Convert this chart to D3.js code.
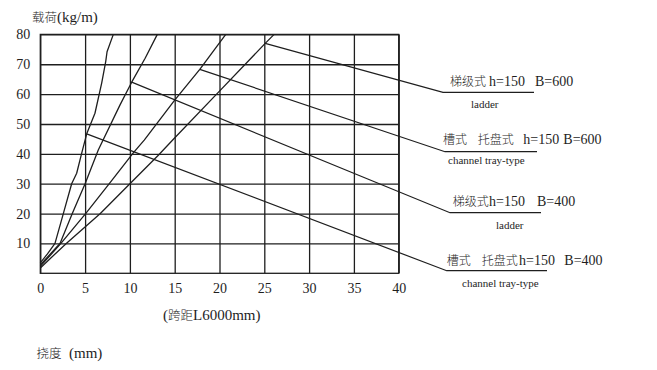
<!DOCTYPE html>
<html>
<head>
<meta charset="utf-8">
<script src="https://cdn.jsdelivr.net/npm/d3@7"></script>
<style>
  body { margin: 0; background: #fff; }
  svg { display: block; font-family: "Liberation Serif", "Noto Sans CJK SC", serif; }
</style>
</head>
<body>
<svg id="chart" width="657" height="370"></svg>
<script>
// tick values on both axes
const xTicks = [0, 5, 10, 15, 20, 25, 30, 35, 40];
const yTicks = [10, 20, 30, 40, 50, 60, 70, 80];

// load (kg/m) vs deflection (mm) curves as [deflection, load]
const ladder600 = [[0, 1.8], [2.9, 10], [6.7, 20], [10, 30], [13.2, 39.6], [14.8, 44.7], [20, 61], [25.1, 77], [26.1, 80]];
const tray600 = [[0, 2.3], [2.3, 10], [5.06, 20], [7.7, 30], [10.4, 40.4], [11.6, 44.6], [15, 58], [17.8, 68.3], [20.7, 80]];
const ladder400 = [[0, 2.8], [2.2, 10], [3.57, 20], [5, 30], [6.47, 41.3], [8.9, 56.4], [10.2, 64], [11.7, 72], [13.06, 80]];
const tray400 = [[0, 3.5], [0.8, 6.5], [1.64, 10], [2.57, 20], [3.5, 30], [4.06, 33.5], [4.6, 40], [5.18, 46.7], [6.1, 53.6], [6.85, 63.7], [7.3, 70.9], [7.45, 74.2], [8.15, 80]];
const curves = [ladder600, tray600, ladder400, tray400];

// the point on each curve where its leader line starts
const leaderAt = [[25.1, 77], [17.8, 68.3], [10.2, 64], [5.18, 46.7]];

// label text for each curve (chinese part, then the h / B part)
const labelText = [
  [["梯级式", true], ["h=150", false], ["B=600", false]],
  [["槽式", true], ["托盘式", true], ["h=150", false], ["B=600", false]],
  [["梯级式", true], ["h=150", false], ["B=400", false]],
  [["槽式", true], ["托盘式", true], ["h=150", false], ["B=400", false]],
];
const subText = ["ladder", "channel tray-type", "ladder", "channel tray-type"];

// where the labels sit (pixels): leader end, underline end, segment x, baselines
const labelLayout = [
  { ex: 443, ey: 92.3, ux: 534, segX: [450, 489, 535], base: 86, subX: 471, subBase: 108 },
  { ex: 445, ey: 151.7, ux: 537, segX: [443, 477.7, 523.3, 563.3], base: 144, subX: 448, subBase: 164 },
  { ex: 450, ey: 212.7, ux: 541, segX: [452.7, 489, 537], base: 206, subX: 496, subBase: 228.5 },
  { ex: 446.7, ey: 270.7, ux: 547, segX: [446.7, 481.7, 519, 564.3], base: 264.5, subX: 462, subBase: 287 },
];

const ink = "#1e1e1e";
const svg = d3.select("#chart");

const x = d3.scaleLinear().domain([0, 40]).range([40.3, 398.7]);
const y = d3.scaleLinear().domain([0, 80]).range([273.3, 34.4]);

const plotW = x(40) - x(0);
const plotH = y(0) - y(80);

// x axis with full-height grid lines
const gx = svg.append("g")
  .attr("transform", `translate(0,${y(0)})`)
  .call(d3.axisBottom(x).tickValues(xTicks).tickSize(-plotH).tickPadding(10));

// y axis with full-width grid lines
const gy = svg.append("g")
  .attr("transform", `translate(${x(0)},0)`)
  .call(d3.axisLeft(y).tickValues(yTicks).tickSize(-plotW).tickPadding(10));

[gx, gy].forEach(g => {
  g.select(".domain").remove();
  g.selectAll(".tick line").attr("stroke", ink).attr("stroke-width", 1.3);
  g.selectAll(".tick text")
    .attr("fill", ink)
    .attr("font-size", 14)
    .attr("font-family", "Liberation Serif, serif");
});

// plot frame
svg.append("rect")
  .attr("x", x(0))
  .attr("y", y(80))
  .attr("width", plotW)
  .attr("height", plotH)
  .attr("fill", "none")
  .attr("stroke", ink)
  .attr("stroke-width", 1.3);

// the four curves
const line = d3.line()
  .x(d => x(d[0]))
  .y(d => y(d[1]));

svg.selectAll("path.curve")
  .data(curves)
  .join("path")
  .attr("class", "curve")
  .attr("d", line)
  .attr("fill", "none")
  .attr("stroke", ink)
  .attr("stroke-width", 1.3)
  .attr("stroke-linejoin", "round");

// leader lines running out to the labels, then the underline
svg.selectAll("path.leader")
  .data(leaderAt)
  .join("path")
  .attr("class", "leader")
  .attr("d", (d, i) => {
    const L = labelLayout[i];
    return `M${x(d[0])},${y(d[1])}L${L.ex},${L.ey}L${L.ux},${L.ey}`;
  })
  .attr("fill", "none")
  .attr("stroke", ink)
  .attr("stroke-width", 1.2);

// the labels
labelText.forEach((segs, i) => {
  const L = labelLayout[i];
  const t = svg.append("text")
    .attr("y", L.base)
    .attr("fill", ink);
  segs.forEach(([s, cjk], j) => {
    t.append("tspan")
      .attr("x", L.segX[j])
      .attr("font-size", cjk ? 12 : 14)
      .attr("font-weight", cjk ? 300 : 400)
      .attr("font-family", cjk ? "Noto Sans CJK SC" : "Liberation Serif")
      .text(s);
  });

  svg.append("text")
    .attr("x", L.subX)
    .attr("y", L.subBase)
    .attr("font-size", 11)
    .attr("fill", ink)
    .text(subText[i]);
});

// axis titles
function mixed(xPos, yPos, parts) {
  const t = svg.append("text").attr("x", xPos).attr("y", yPos).attr("fill", ink);
  parts.forEach(([s, cjk]) => {
    t.append("tspan")
      .attr("font-size", cjk ? 12.5 : 15)
      .attr("font-weight", cjk ? 300 : 400)
      .attr("font-family", cjk ? "Noto Sans CJK SC" : "Liberation Serif")
      .text(s);
  });
}

mixed(32, 21.5, [["载荷", true], ["(kg/m)", false]]);
mixed(163, 320, [["(", false], ["跨距", true], ["L6000mm)", false]]);
mixed(36.5, 357.5, [["挠度", true], ["\u00a0\u00a0(mm)", false]]);
</script>
</body>
</html>
